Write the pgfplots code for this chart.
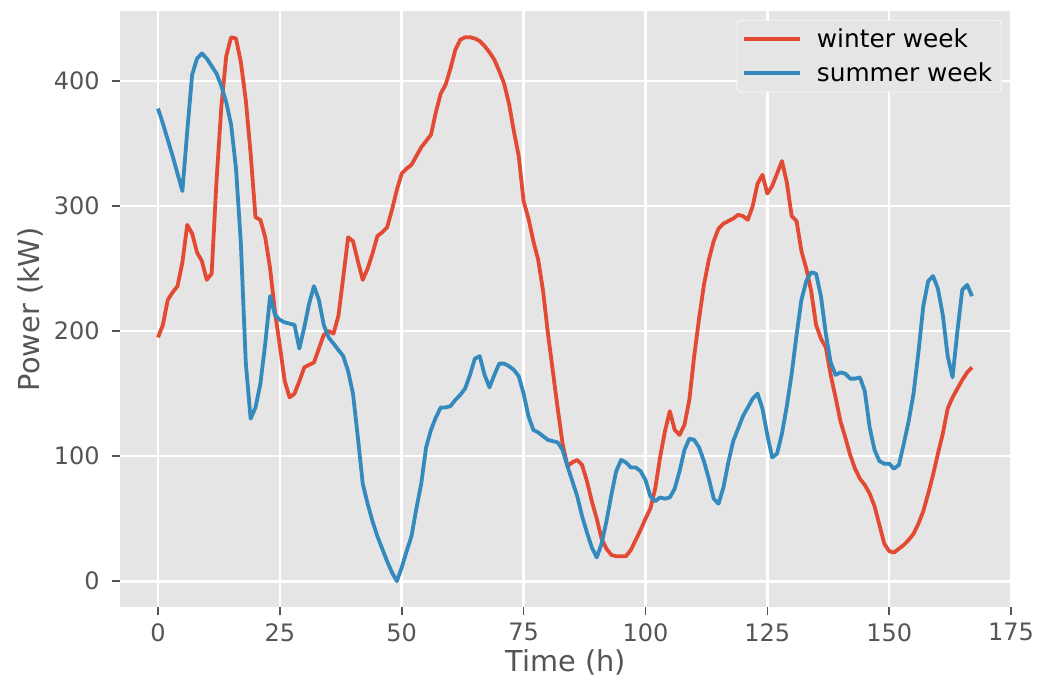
\documentclass[border=0pt]{standalone}
\usepackage{fontspec}
\setmainfont{DejaVu Sans}
\usepackage{pgfplots}
\usepackage{pgfplotstable}
\pgfplotsset{compat=1.18}
\definecolor{ggRed}{HTML}{E24A33}
\definecolor{ggBlue}{HTML}{348ABD}
\definecolor{ggBack}{HTML}{E5E5E5}
\definecolor{ggTick}{HTML}{555555}

% hourly power, winter and summer week
\pgfplotstableread{
t winter summer
0 195 378
1 205 366
2 225 353
3 231 340
4 236 326
5 255 312
6 285 360
7 278 405
8 263 418
9 256 422
10 241 418
11 246 412
12 320 406
13 380 396
14 420 383
15 435 365
16 434 330
17 415 270
18 385 175
19 342 130
20 291 139
21 289 158
22 275 190
23 250 228
24 215 213
25 188 209
26 160 207
27 147 206
28 150 205
29 160 186
30 171 203
31 173 222
32 175 236
33 186 225
34 197 205
35 200 195
36 198 190
37 212 185
38 243 180
39 275 168
40 272 150
41 256 115
42 241 78
43 250 62
44 262 48
45 276 36
46 279 26
47 283 16
48 297 7
49 313 0
50 326 11
51 330 24
52 333 36
53 340 58
54 347 78
55 352 107
56 357 121
57 375 131
58 390 139
59 397 139
60 410 140
61 425 145
62 433 149
63 435 154
64 435 165
65 434 178
66 432 180
67 428 165
68 423 155
69 417 165
70 408 174
71 398 174
72 382 172
73 360 169
74 340 164
75 304 150
76 290 132
77 272 121
78 257 119
79 232 116
80 198 113
81 168 112
82 138 111
83 110 105
84 92 92
85 95 80
86 97 68
87 93 52
88 80 39
89 64 27
90 50 19
91 34 30
92 26 48
93 21 69
94 20 88
95 20 97
96 20 95
97 25 91
98 33 91
99 41 88
100 50 81
101 58 68
102 74 64
103 99 67
104 120 66
105 136 67
106 121 74
107 117 88
108 125 105
109 145 114
110 180 113
111 210 107
112 237 96
113 257 82
114 272 66
115 282 62
116 286 75
117 288 95
118 290 112
119 293 122
120 292 132
121 289 139
122 300 146
123 318 150
124 325 138
125 310 117
126 316 99
127 326 102
128 336 118
129 319 140
130 292 166
131 288 197
132 264 225
133 250 240
134 232 247
135 205 246
136 194 228
137 187 198
138 165 175
139 147 165
140 128 167
141 115 166
142 101 162
143 90 162
144 82 163
145 77 152
146 70 123
147 60 105
148 45 96
149 30 94
150 24 94
151 23 90
152 26 93
153 29 110
154 33 128
155 38 150
156 46 183
157 56 220
158 70 240
159 85 244
160 102 234
161 118 213
162 138 180
163 147 163
164 154 200
165 161 233
166 167 237
167 171 228
}\powerdata

\begin{document}
\begin{tikzpicture}
\begin{axis}[
  scale only axis,
  width=446pt, height=298.25pt,
  xmin=-7.8, xmax=175.2,
  ymin=-21, ymax=456,
  xtick={0,25,...,175},
  ytick={0,100,200,300,400},
  axis background/.style={fill=ggBack},
  axis line style={draw=none},
  grid=major,
  major grid style={white, line width=1.3pt},
  tick align=outside,
  major tick length=4pt,
  tick style={ggTick, line width=0.8pt},
  xtick pos=bottom, ytick pos=left,
  /pgf/number format/assume math mode=true,
  tick label style={font=\fontsize{12}{14}\selectfont, text=ggTick, inner sep=0pt},
  xticklabel style={anchor=north, yshift=-3.75pt},
  yticklabel style={anchor=east, xshift=-6pt},
  xlabel={Time (h)},
  ylabel={Power (kW)},
  label style={font=\fontsize{14.4}{17}\selectfont, text=ggTick},
  xlabel style={at={(axis description cs:0.5,0)}, anchor=center, yshift=-27.25pt},
  ylabel style={at={(axis description cs:-0.1009,0.5)}, anchor=center},
  legend style={at={(0.9885,0.985)}, anchor=north east,
    fill=ggBack, draw=white!75!ggBack, rounded corners=2pt,
    inner xsep=2.5pt, inner ysep=2pt, row sep=2pt,
    font=\fontsize{12.4}{14}\selectfont, text=black,
    nodes={inner sep=2pt},
    /tikz/every odd column/.append style={column sep=5.5pt}},
  legend cell align=left,
  legend image code/.code={\draw[#1] (0pt,0pt) -- (28pt,0pt);},
]
\addplot[ggRed, line width=1.9pt, line join=round] table[x=t, y=winter] {\powerdata};
\addplot[ggBlue, line width=1.9pt, line join=round] table[x=t, y=summer] {\powerdata};
\legend{winter week, summer week}
\end{axis}
\pgfresetboundingbox
\path ([shift={(-60pt,-38.25pt)}]current axis.south west) rectangle ([shift={(16.5pt,5.5pt)}]current axis.north east);
\end{tikzpicture}
\end{document}
